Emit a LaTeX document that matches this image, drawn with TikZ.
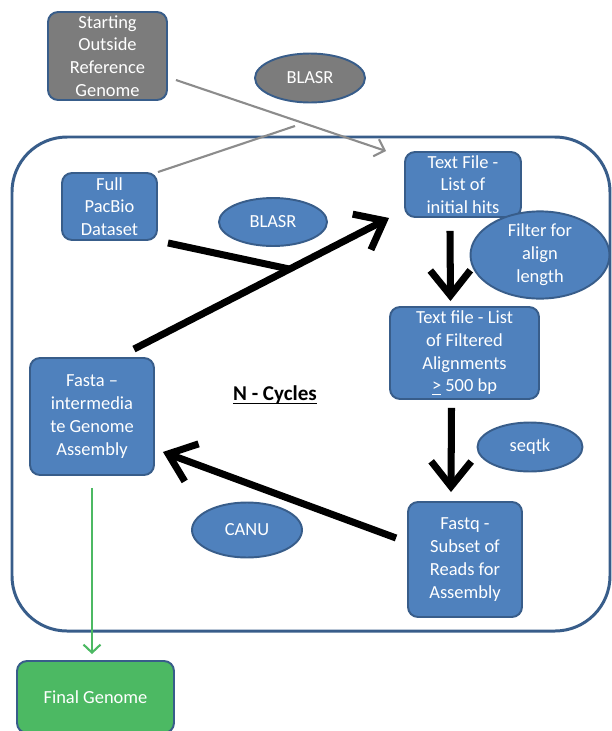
\documentclass[tikz,border=0pt]{standalone}
\usepackage{fontspec}
\setmainfont{Carlito}
\usetikzlibrary{arrows.meta,positioning,calc,shapes.geometric}
\definecolor{cyBlue}{RGB}{79,129,189}
\definecolor{cyEdge}{RGB}{56,93,138}
\definecolor{cyGray}{RGB}{124,124,124}
\definecolor{cyLine}{RGB}{140,140,140}
\definecolor{cyGreen}{RGB}{76,185,99}

\begin{document}
\begin{tikzpicture}[
  x=0.02cm, y=-0.02cm,
  font=\fontsize{10.5}{13}\selectfont,
  box/.style={draw=cyEdge, line width=1.1pt, fill=cyBlue, text=white, rounded corners=0.2cm, align=center, inner sep=0pt},
  tool/.style={ellipse, draw=cyEdge, line width=1.1pt, fill=cyBlue, text=white, align=center, inner sep=0pt},
  flow/.style={line width=4pt, -{Straight Barb[length=5mm, width=8mm]}},
  refline/.style={draw=cyLine, line width=1.2pt},
  done/.style={draw=cyGreen, line width=1.2pt, -{Straight Barb[length=1.6mm, width=3.4mm]}}
]
\useasboundingbox (0,0) rectangle (612,731);

% cycle frame
\draw[cyEdge, line width=1.7pt, rounded corners=1.1cm] (12,137) rectangle (610,631);

%============ START ============
\node[box, fill=cyGray, minimum width=2.38cm, minimum height=1.76cm] (ref) at (107.5,56) {Starting\\Outside\\Reference\\Genome};
\node[tool, fill=cyGray, minimum width=2.2cm, minimum height=0.98cm] (blasrA) at (310,78) {BLASR};
\node[box, minimum width=1.9cm, minimum height=1.34cm] (pacbio) at (109.5,206.5) {Full\\PacBio\\Dataset};

%============ CYCLE ============
\node[tool, minimum width=2.16cm, minimum height=0.96cm] (blasrB) at (273,222) {BLASR};
\node[box, minimum width=2.32cm, minimum height=1.3cm] (hits) at (463,184.5) {Text File -\\List of\\initial hits};
\node[tool, minimum width=2.78cm, minimum height=1.26cm] (filter) at (540,255) {Filter for\\align\\length};
\node[box, minimum width=2.98cm, minimum height=1.84cm] (aligned) at (464.5,353) {Text file - List\\of Filtered\\Alignments\\\underline{>} 500 bp};
\node[tool, minimum width=2.1cm, minimum height=0.98cm] (seqtk) at (530,447) {seqtk};
\node[box, minimum width=2.28cm, minimum height=2.3cm] (fastq) at (465,559.5) {Fastq -\\Subset of\\Reads for\\Assembly};
\node[tool, minimum width=2.2cm, minimum height=1.1cm] (canu) at (247,530) {CANU};
\node[box, minimum width=2.48cm, minimum height=2.34cm] (fasta) at (92,416.5) {Fasta --\\intermedia\\te Genome\\Assembly};
\node[font=\fontsize{12}{14}\selectfont\bfseries, inner sep=0pt] (cycles) at (275,395) {N - Cycles};
\draw[line width=0.8pt] ([yshift=-1.6pt]cycles.base west) -- ([yshift=-1.6pt]cycles.base east);

%============ END ============
\node[box, fill=cyGreen, minimum width=3.14cm, minimum height=1.44cm] (final) at (95.5,697) {Final Genome};

% reference mapping
\coordinate (blasrA-in) at (295,126);
\draw[refline, -{Straight Barb[length=1.8mm, width=3.6mm]}] ([shift={(8,24)}]ref.east) -- ([shift={(-18,0)}]hits.north west);
\draw[refline] (pacbio.north east) -- (blasrA-in);

% cycle arrows
\draw[flow] ([shift={(-21,-8)}]fasta.north east) -- coordinate[pos=0.61] (join) ([shift={(-15,0)}]hits.south west);
\draw[flow, -] ([shift={(10,2)}]pacbio.south east) -- (join);
\draw[flow] ([shift={(-13,13)}]hits.south) -- ([shift={(-14,-5)}]aligned.north);
\draw[flow] ([shift={(-13,8)}]aligned.south) -- ([shift={(-14,-9)}]fastq.north);
\draw[flow] ([shift={(-11,-21.5)}]fastq.west) -- ([shift={(8,35.5)}]fasta.east);

% exit
\draw[done] ($(fasta.south)+(0,12)$) -- ($(fasta.south |- final.north)+(0,-6)$);
\end{tikzpicture}
\end{document}
